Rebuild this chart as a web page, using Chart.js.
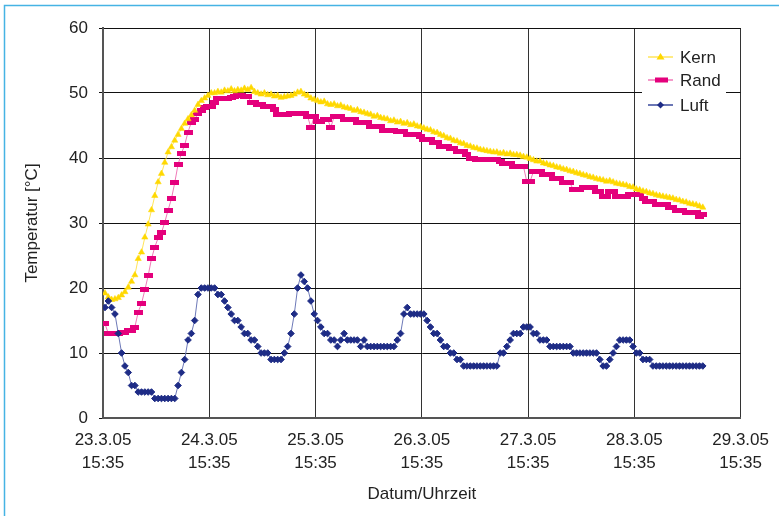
<!DOCTYPE html>
<html>
<head>
<meta charset="utf-8">
<script src="https://cdn.jsdelivr.net/npm/chart.js@4.4.1/dist/chart.umd.min.js"></script>
<style>
html,body{margin:0;padding:0;background:#fff;}
</style>
</head>
<body>
<canvas id="mycanvas" width="779" height="516"></canvas>
<script>
// tick labels
var dateLabels = ['23.3.05','24.3.05','25.3.05','26.3.05','27.3.05','28.3.05','29.3.05'];
var timeLabel = '15:35';

// readings every 45 min, first one 27 min after 23.3.05 15:35
var firstMinute = 27;
var stepMinutes = 45;

var kern = [
	19.2,18.6,18.2,18.3,18.5,18.9,19.4,20.1,21,22,
	24.5,25.5,27.8,29.8,32,34.2,36.3,37.6,39.3,40.9,
	41.7,42.7,43.6,44.5,45.3,46,46.6,47.3,48.2,48.8,
	49.2,49.6,50,50,50.2,50.1,50.4,50.3,50.6,50.3,
	50.5,50.4,50.7,50.5,50.8,50.2,50,49.8,50,49.7,
	49.8,49.5,49.6,49.3,49.4,49.5,49.6,49.8,50.1,50.2,
	49.8,49.6,49.2,49,48.8,48.6,48.7,48.3,48.2,48.3,
	48,48.1,47.8,47.7,47.6,47.3,47.4,47.1,47,46.8,
	46.7,46.4,46.5,46.2,46.1,46,45.7,45.8,45.5,45.6,
	45.3,45.4,45.1,45.2,44.9,44.8,44.6,44.4,44.3,44,
	43.9,43.6,43.4,43.1,43,42.7,42.6,42.3,42.2,41.9,
	41.8,41.6,41.5,41.3,41.2,41.1,41,40.9,40.9,40.7,
	40.8,40.6,40.7,40.5,40.5,40.4,40.2,40.1,39.9,39.7,
	39.5,39.5,39.2,39.1,38.9,38.8,38.6,38.5,38.3,38.2,
	38,37.9,37.7,37.6,37.4,37.3,37.1,37,36.8,36.7,
	36.6,36.4,36.5,36.3,36.1,36,35.9,35.8,35.6,35.5,
	35.2,35.1,34.9,34.8,34.6,34.5,34.3,34.2,34.1,34,
	33.9,33.8,33.6,33.5,33.3,33.2,33,32.9,32.8,32.6,32.4
];

var rand = [
	14.5,13,13,13,13,13.2,13.2,13.5,13.5,14,
	16.3,17.6,19.7,21.9,24.5,26.3,27.7,28.5,30.1,32,
	33.7,36.2,39,40.7,42,44,45.5,46,46.8,47.3,
	47.8,48,48,48.6,49.1,49.1,49.2,49.2,49.3,49.4,
	49.6,49.6,49.4,49.4,48.6,48.6,48.3,48.3,48,48,
	48,47.5,46.7,46.7,46.7,46.7,46.8,46.8,46.8,46.8,
	46.8,46.4,44.7,46.4,45.6,45.6,46,46,44.7,46.4,
	46.4,46.4,46,46,46,46,45.4,45.4,45.4,45.4,
	44.9,44.9,44.9,44.9,44.2,44.2,44.2,44.2,44.1,44.1,
	44.1,43.6,43.6,43.6,43.6,43.3,42.9,42.9,42.9,42.4,
	42.4,41.8,41.8,41.8,41.5,41.5,41,41,41,40.5,
	40,40,39.7,39.7,39.7,39.7,39.7,39.7,39.7,39.4,
	39.1,39.1,39.1,38.7,38.7,38.7,38.7,36.4,36.4,37.9,
	37.9,37.9,37.4,37.4,37.4,36.9,36.9,36.9,36.2,36.2,
	36.2,35.1,35.1,35.1,35.4,35.4,35.4,35.4,34.8,34.8,
	34.1,34.1,34.9,34.9,34.1,34.1,34.1,34.1,34.4,34.4,
	34.4,34.4,33.8,33.3,33.3,33.3,32.8,32.8,32.8,32.8,
	32.4,32.4,32,32,32,31.6,31.6,31.6,31.6,31,31.3
];

var luft = [
	17,18,17,16,13,10,8,7,5,5,
	4,4,4,4,4,3,3,3,3,3,
	3,3,5,7,9,12,13,15,19,20,
	20,20,20,20,19,19,18,17,16,15,
	15,14,13,13,12,12,11,10,10,10,
	9,9,9,9,10,11,13,16,20,22,
	21,20,18,16,15,14,13,13,12,12,
	11,12,13,12,12,12,12,11,12,11,
	11,11,11,11,11,11,11,11,12,13,
	16,17,16,16,16,16,16,15,14,13,
	13,12,11,11,10,10,9,9,8,8,
	8,8,8,8,8,8,8,8,8,10,
	10,11,12,13,13,13,14,14,14,13,
	13,12,12,12,11,11,11,11,11,11,
	11,10,10,10,10,10,10,10,10,9,
	8,8,9,10,11,12,12,12,12,11,
	10,10,9,9,9,8,8,8,8,8,
	8,8,8,8,8,8,8,8,8,8,8
];

var FONT = "'Liberation Sans', Arial, Helvetica, sans-serif";
var TEXT = '#222';
var KERN_C = '#ffd800', RAND_C = '#e4007c', LUFT_C = '#1e2c86';

function toPoints(vals) {
	var out = [];
	for (var i = 0; i < vals.length; i++) {
		out.push({x: (firstMinute + stepMinutes * i) / 1440, y: vals[i]});
	}
	return out;
}

// flat magenta bar used as the Rand marker
var randMark = document.createElement('canvas');
randMark.width = 9; randMark.height = 5;
var rctx = randMark.getContext('2d');
rctx.fillStyle = RAND_C;
rctx.fillRect(0, 0, 9, 5);

var frame = {
	id: 'frame',
	beforeDraw: function(chart) {
		var c = chart.ctx;
		c.save();
		c.fillStyle = '#fff';
		c.fillRect(0, 0, chart.width, chart.height);
		c.strokeStyle = '#45b3e4';
		c.lineWidth = 1.5;
		c.beginPath();
		c.moveTo(4.5, chart.height);
		c.lineTo(4.5, 5.5);
		c.lineTo(chart.width, 5.5);
		c.stroke();
		c.restore();
	}
};

var legendBox = {
	id: 'legendBox',
	afterDatasetsDraw: function(chart) {
		var c = chart.ctx;
		var items = [
			{text: 'Kern', line: '#ffe55a', color: KERN_C, mark: 'tri', y: 57},
			{text: 'Rand', line: '#f07ab8', color: RAND_C, mark: 'bar', y: 80},
			{text: 'Luft', line: '#3a4a9c', color: LUFT_C, mark: 'dia', y: 105}
		];
		c.save();
		c.fillStyle = '#fff';
		c.fillRect(642, 38, 84, 84);
		items.forEach(function(it) {
			c.strokeStyle = it.line;
			c.lineWidth = 1.5;
			c.beginPath();
			c.moveTo(648, it.y);
			c.lineTo(673, it.y);
			c.stroke();
			c.fillStyle = it.color;
			c.beginPath();
			if (it.mark === 'tri') {
				c.moveTo(660.5, it.y - 4);
				c.lineTo(664.5, it.y + 2.5);
				c.lineTo(656.5, it.y + 2.5);
				c.closePath();
				c.fill();
			} else if (it.mark === 'bar') {
				c.fillRect(655, it.y - 2.5, 13, 5);
			} else {
				c.moveTo(660.5, it.y - 3.5);
				c.lineTo(664, it.y);
				c.lineTo(660.5, it.y + 3.5);
				c.lineTo(657, it.y);
				c.closePath();
				c.fill();
			}
			c.fillStyle = TEXT;
			c.font = '17px ' + FONT;
			c.textBaseline = 'middle';
			c.textAlign = 'left';
			c.fillText(it.text, 680, it.y + 1);
		});
		c.restore();
	}
};

var ctx = document.getElementById('mycanvas');

var chart = new Chart(ctx, {
	type: 'line',
	data: {
		datasets: [
			{
				label: 'Luft',
				data: toPoints(luft),
				borderColor: '#6d79b8',
				borderWidth: 1,
				pointStyle: 'rectRot',
				pointRadius: 3.3,
				pointBackgroundColor: LUFT_C,
				pointBorderColor: LUFT_C,
				pointBorderWidth: 1,
				tension: 0
			},
			{
				label: 'Kern',
				data: toPoints(kern),
				borderColor: '#ffe55a',
				borderWidth: 1,
				pointStyle: 'triangle',
				pointRadius: 3.6,
				pointBackgroundColor: KERN_C,
				pointBorderColor: KERN_C,
				pointBorderWidth: 0.5,
				tension: 0
			},
			{
				label: 'Rand',
				data: toPoints(rand),
				borderColor: '#f07ab8',
				borderWidth: 1,
				pointStyle: randMark,
				tension: 0
			}
		]
	},
	options: {
		responsive: false,
		animation: false,
		events: [],
		layout: {padding: {left: 0, top: 28, right: 37, bottom: 0}},
		plugins: {
			legend: {display: false},
			tooltip: {enabled: false}
		},
		scales: {
			x: {
				type: 'linear',
				min: 0,
				max: 6,
				afterFit: function(s) { s.height = 98; },
				ticks: {
					stepSize: 1,
					autoSkip: false,
					maxRotation: 0,
					padding: 10,
					color: TEXT,
					font: {family: FONT, size: 17, lineHeight: 1.4},
					callback: function(v) { return [dateLabels[v], timeLabel]; }
				},
				grid: {color: '#333', lineWidth: 1, drawTicks: false},
				border: {color: '#555', width: 2},
				title: {
					display: true,
					text: 'Datum/Uhrzeit',
					color: TEXT,
					font: {family: FONT, size: 17},
					padding: {top: 0, bottom: 11}
				}
			},
			y: {
				min: 0,
				max: 60,
				afterFit: function(s) { s.width = 103; },
				ticks: {
					stepSize: 10,
					padding: 11,
					color: TEXT,
					font: {family: FONT, size: 17}
				},
				grid: {color: '#111', lineWidth: 1, tickLength: 4},
				border: {color: '#555', width: 2},
				title: {
					display: true,
					text: 'Temperatur [°C]',
					color: TEXT,
					font: {family: FONT, size: 17},
					padding: {top: 22, bottom: 0}
				}
			}
		}
	},
	plugins: [frame, legendBox]
});
</script>
</body>
</html>
